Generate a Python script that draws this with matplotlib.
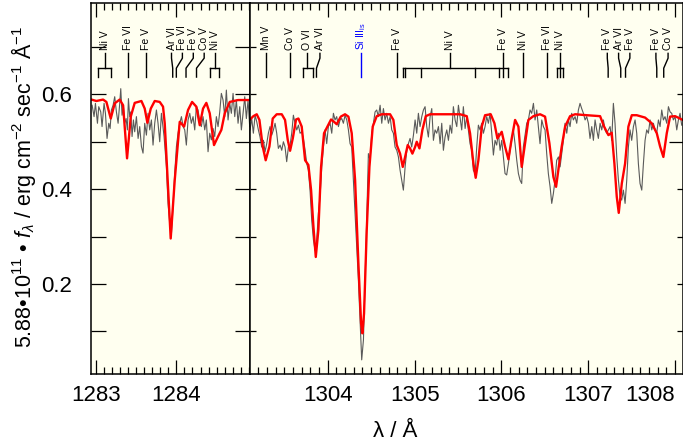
import matplotlib
matplotlib.use("Agg")
import matplotlib.pyplot as plt
from matplotlib.ticker import FixedLocator, NullFormatter

plt.rcParams['font.family'] = ['Liberation Sans', 'DejaVu Sans']
plt.rcParams['mathtext.fontset'] = 'custom'
plt.rcParams['mathtext.rm'] = 'Liberation Sans'
plt.rcParams['mathtext.it'] = 'Liberation Sans:italic'

# ---- observed spectrum (grey) ----
left_obs_wave = [
    1282.956, 1282.980, 1282.997, 1283.022, 1283.038, 1283.063, 1283.079, 1283.104, 1283.121, 1283.141,
    1283.162, 1283.179, 1283.195, 1283.216, 1283.236, 1283.257, 1283.278, 1283.298, 1283.311, 1283.327,
    1283.344, 1283.360, 1283.377, 1283.393, 1283.406, 1283.422, 1283.435, 1283.451, 1283.468, 1283.484,
    1283.505, 1283.526, 1283.546, 1283.567, 1283.587, 1283.608, 1283.629, 1283.649, 1283.670, 1283.691,
    1283.711, 1283.732, 1283.753, 1283.773, 1283.794, 1283.815, 1283.848, 1283.877, 1283.897, 1283.918,
    1283.939, 1283.959, 1283.980, 1284.001, 1284.021, 1284.042, 1284.063, 1284.083, 1284.104, 1284.124,
    1284.145, 1284.166, 1284.186, 1284.207, 1284.228, 1284.248, 1284.269, 1284.290, 1284.310, 1284.331,
    1284.352, 1284.372, 1284.393, 1284.414, 1284.434, 1284.455, 1284.476, 1284.496, 1284.517, 1284.538,
    1284.558, 1284.579, 1284.600, 1284.620, 1284.641, 1284.662, 1284.682, 1284.703, 1284.724, 1284.744,
    1284.765, 1284.786, 1284.806, 1284.827, 1284.848, 1284.868, 1284.889, 1284.909]
left_obs_flux = [
    0.577, 0.553, 0.581, 0.539, 0.574, 0.563, 0.532, 0.581, 0.560, 0.507,
    0.539, 0.528, 0.567, 0.577, 0.595, 0.563, 0.539, 0.581, 0.612, 0.556,
    0.574, 0.539, 0.549, 0.525, 0.591, 0.553, 0.563, 0.511, 0.546, 0.521,
    0.553, 0.507, 0.532, 0.490, 0.476, 0.539, 0.514, 0.560, 0.525, 0.546,
    0.493, 0.539, 0.567, 0.539, 0.500, 0.560, 0.511, 0.447, 0.370, 0.328,
    0.307, 0.363, 0.433, 0.490, 0.518, 0.539, 0.553, 0.532, 0.525, 0.493,
    0.546, 0.560, 0.539, 0.553, 0.525, 0.574, 0.567, 0.542, 0.532, 0.553,
    0.525, 0.546, 0.479, 0.518, 0.504, 0.528, 0.511, 0.553, 0.532, 0.563,
    0.602, 0.588, 0.553, 0.609, 0.546, 0.581, 0.560, 0.602, 0.553, 0.588,
    0.539, 0.574, 0.525, 0.560, 0.595, 0.549, 0.588, 0.532]

right_obs_wave = [
    1303.105, 1303.124, 1303.143, 1303.163, 1303.182, 1303.201, 1303.220, 1303.239, 1303.259, 1303.278,
    1303.297, 1303.316, 1303.335, 1303.355, 1303.374, 1303.393, 1303.412, 1303.431, 1303.451, 1303.470,
    1303.489, 1303.508, 1303.527, 1303.547, 1303.566, 1303.585, 1303.604, 1303.623, 1303.643, 1303.662,
    1303.681, 1303.700, 1303.719, 1303.739, 1303.758, 1303.777, 1303.796, 1303.815, 1303.835, 1303.854,
    1303.873, 1303.892, 1303.911, 1303.931, 1303.950, 1303.969, 1303.988, 1304.007, 1304.027, 1304.046,
    1304.065, 1304.084, 1304.103, 1304.123, 1304.142, 1304.161, 1304.180, 1304.199, 1304.219, 1304.238,
    1304.257, 1304.276, 1304.295, 1304.315, 1304.334, 1304.353, 1304.372, 1304.391, 1304.411, 1304.430,
    1304.449, 1304.468, 1304.487, 1304.507, 1304.526, 1304.545, 1304.564, 1304.583, 1304.603, 1304.622,
    1304.641, 1304.660, 1304.679, 1304.699, 1304.718, 1304.737, 1304.756, 1304.775, 1304.795, 1304.814,
    1304.833, 1304.852, 1304.871, 1304.891, 1304.910, 1304.929, 1304.948, 1304.967, 1304.987, 1305.006,
    1305.025, 1305.044, 1305.063, 1305.083, 1305.102, 1305.121, 1305.140, 1305.159, 1305.179, 1305.198,
    1305.217, 1305.236, 1305.255, 1305.275, 1305.294, 1305.313, 1305.332, 1305.351, 1305.371, 1305.390,
    1305.409, 1305.428, 1305.447, 1305.467, 1305.486, 1305.505,
    1305.543, 1305.562, 1305.582, 1305.601, 1305.620, 1305.639, 1305.658, 1305.677, 1305.697, 1305.716,
    1305.735, 1305.754, 1305.773, 1305.793, 1305.812, 1305.831, 1305.850, 1305.869, 1305.889, 1305.908,
    1305.927, 1305.946, 1305.965, 1305.985, 1306.004, 1306.023, 1306.042, 1306.061, 1306.081, 1306.100,
    1306.119, 1306.138, 1306.157, 1306.177, 1306.196, 1306.215, 1306.234, 1306.253, 1306.273, 1306.292,
    1306.311, 1306.330, 1306.349, 1306.369, 1306.388, 1306.407, 1306.426, 1306.445, 1306.465, 1306.484,
    1306.503, 1306.522, 1306.541, 1306.561, 1306.580, 1306.599, 1306.618, 1306.637, 1306.657, 1306.676,
    1306.695, 1306.714, 1306.733, 1306.753, 1306.772, 1306.791, 1306.810, 1306.829, 1306.849, 1306.868,
    1306.887, 1306.906, 1306.925, 1306.945, 1306.964, 1306.983, 1307.002, 1307.021, 1307.041, 1307.060,
    1307.079, 1307.098, 1307.117, 1307.137, 1307.156, 1307.175, 1307.194, 1307.213, 1307.233, 1307.252,
    1307.271, 1307.290, 1307.309, 1307.329, 1307.348, 1307.367, 1307.386, 1307.405, 1307.425, 1307.444,
    1307.463, 1307.482, 1307.501, 1307.521, 1307.540, 1307.559, 1307.578, 1307.597, 1307.617, 1307.636,
    1307.655, 1307.674, 1307.693, 1307.713, 1307.732, 1307.751, 1307.770, 1307.789, 1307.809, 1307.828,
    1307.847, 1307.866, 1307.885, 1307.905, 1307.924, 1307.943, 1307.962, 1307.981, 1308.001, 1308.020,
    1308.039, 1308.058, 1308.077]
right_obs_flux = [
    0.525, 0.549, 0.518, 0.556, 0.542, 0.525, 0.510, 0.489, 0.503, 0.479,
    0.496, 0.518, 0.532, 0.514, 0.525, 0.539, 0.518, 0.486, 0.493, 0.482,
    0.500, 0.489, 0.458, 0.489, 0.493, 0.518, 0.556, 0.539, 0.525, 0.535,
    0.518, 0.521, 0.507, 0.482, 0.454, 0.440, 0.398, 0.335, 0.293, 0.271,
    0.293, 0.349, 0.384, 0.447, 0.489, 0.525, 0.496, 0.532, 0.539, 0.518,
    0.560, 0.546, 0.553, 0.532, 0.546, 0.549, 0.539, 0.556, 0.546, 0.525,
    0.496, 0.489, 0.419, 0.349, 0.278, 0.208, 0.124, 0.040, 0.082, 0.208,
    0.335, 0.475, 0.461, 0.518, 0.539, 0.563, 0.567, 0.553, 0.577, 0.539,
    0.570, 0.546, 0.560, 0.539, 0.553, 0.525, 0.518, 0.489, 0.482, 0.468,
    0.440, 0.419, 0.398, 0.447, 0.482, 0.496, 0.507, 0.489, 0.514, 0.546,
    0.518, 0.560, 0.532, 0.553, 0.567, 0.574, 0.532, 0.510, 0.553, 0.570,
    0.503, 0.525, 0.518, 0.532, 0.496, 0.539, 0.482, 0.510, 0.525, 0.503,
    0.535, 0.518, 0.574, 0.546, 0.532, 0.577,
    0.525, 0.574, 0.528, 0.553, 0.525, 0.496, 0.482, 0.440, 0.433, 0.489,
    0.535, 0.525, 0.539, 0.518, 0.532, 0.553, 0.539, 0.560, 0.518, 0.472,
    0.503, 0.493, 0.518, 0.482, 0.503, 0.468, 0.433, 0.430, 0.454, 0.482,
    0.503, 0.525, 0.496, 0.461, 0.433, 0.419, 0.412, 0.489, 0.514, 0.539,
    0.546, 0.567, 0.560, 0.581, 0.546, 0.567, 0.532, 0.496, 0.546, 0.532,
    0.525, 0.475, 0.433, 0.405, 0.370, 0.391, 0.419, 0.461, 0.468, 0.447,
    0.475, 0.503, 0.539, 0.518, 0.546, 0.532, 0.560, 0.546, 0.553, 0.539,
    0.567, 0.581, 0.570, 0.560, 0.546, 0.553, 0.539, 0.507, 0.532, 0.503,
    0.546, 0.525, 0.507, 0.539, 0.525, 0.546, 0.525, 0.518, 0.525, 0.532,
    0.503, 0.581, 0.539, 0.468, 0.419, 0.384, 0.377, 0.398, 0.370, 0.419,
    0.489, 0.525, 0.503, 0.532, 0.546, 0.518, 0.454, 0.412, 0.398, 0.454,
    0.503, 0.525, 0.518, 0.546, 0.525, 0.539, 0.525, 0.518, 0.546, 0.532,
    0.567, 0.546, 0.553, 0.539, 0.574, 0.563, 0.560, 0.546, 0.553, 0.525,
    0.546, 0.560, 0.535]

# ---- model spectrum (red) ----
left_mod_wave = [
    1282.947, 1283.009, 1283.092, 1283.133, 1283.187, 1283.236, 1283.298, 1283.340, 1283.389, 1283.435,
    1283.484, 1283.567, 1283.608, 1283.641, 1283.683, 1283.732, 1283.794, 1283.835, 1283.856, 1283.930,
    1283.980, 1284.042, 1284.096, 1284.145, 1284.195, 1284.248, 1284.290, 1284.331, 1284.372, 1284.414,
    1284.467, 1284.517, 1284.558, 1284.600, 1284.662, 1284.765, 1284.909]
left_mod_flux = [
    0.589, 0.586, 0.589, 0.584, 0.549, 0.581, 0.589, 0.577, 0.465, 0.553,
    0.582, 0.586, 0.570, 0.540, 0.570, 0.586, 0.584, 0.574, 0.539, 0.296,
    0.419, 0.542, 0.532, 0.567, 0.584, 0.574, 0.535, 0.570, 0.582, 0.560,
    0.493, 0.511, 0.525, 0.560, 0.584, 0.588, 0.588]

right_mod_wave = [
    1303.105, 1303.143, 1303.182, 1303.213, 1303.251, 1303.285, 1303.328, 1303.366, 1303.412, 1303.470,
    1303.508, 1303.539, 1303.566, 1303.597, 1303.635, 1303.662, 1303.700, 1303.739, 1303.777, 1303.808,
    1303.835, 1303.862, 1303.892, 1303.923, 1303.957, 1303.996, 1304.038, 1304.073, 1304.103, 1304.150,
    1304.199, 1304.238, 1304.276, 1304.315, 1304.353, 1304.384, 1304.399, 1304.418, 1304.449, 1304.480,
    1304.518, 1304.564, 1304.622, 1304.718, 1304.756, 1304.795, 1304.833, 1304.864, 1304.891, 1304.921,
    1304.948, 1304.975, 1305.006, 1305.025, 1305.056, 1305.090, 1305.129, 1305.179, 1305.409, 1305.524,
    1305.601, 1305.639, 1305.678, 1305.704, 1305.735, 1305.774, 1305.812, 1305.877, 1305.920, 1305.954,
    1306.004, 1306.042, 1306.081, 1306.119, 1306.158, 1306.196, 1306.234, 1306.273, 1306.311, 1306.369,
    1306.446, 1306.503, 1306.553, 1306.599, 1306.630, 1306.661, 1306.695, 1306.734, 1306.791, 1306.849,
    1306.983, 1307.137, 1307.183, 1307.233, 1307.271, 1307.302, 1307.329, 1307.352, 1307.387, 1307.425,
    1307.463, 1307.502, 1307.559, 1307.655, 1307.732, 1307.790, 1307.828, 1307.866, 1307.905, 1307.943,
    1308.001, 1308.089]
right_mod_flux = [
    0.547, 0.554, 0.558, 0.546, 0.490, 0.461, 0.490, 0.549, 0.558, 0.558,
    0.546, 0.504, 0.481, 0.507, 0.547, 0.549, 0.532, 0.461, 0.451, 0.398,
    0.321, 0.257, 0.314, 0.447, 0.518, 0.532, 0.547, 0.542, 0.537, 0.553,
    0.558, 0.553, 0.518, 0.419, 0.243, 0.117, 0.096, 0.138, 0.314, 0.447,
    0.532, 0.554, 0.558, 0.558, 0.546, 0.493, 0.475, 0.447, 0.468, 0.493,
    0.486, 0.475, 0.489, 0.500, 0.486, 0.525, 0.554, 0.558, 0.558, 0.558,
    0.554, 0.518, 0.454, 0.424, 0.461, 0.532, 0.556, 0.558, 0.539, 0.507,
    0.521, 0.490, 0.463, 0.507, 0.546, 0.532, 0.447, 0.497, 0.546, 0.554,
    0.558, 0.553, 0.497, 0.426, 0.405, 0.447, 0.490, 0.532, 0.554, 0.558,
    0.556, 0.554, 0.532, 0.514, 0.519, 0.454, 0.384, 0.350, 0.412, 0.454,
    0.532, 0.556, 0.556, 0.551, 0.539, 0.518, 0.490, 0.468, 0.518, 0.553,
    0.554, 0.546]

# ---- line identifications: name, label position, line positions ----
left_id_names = ['Ni V', 'Fe VI', 'Fe V', 'Ar VI', 'Fe VI', 'Fe V', 'Co V', 'Ni V']
left_id_label = [1283.11, 1283.40, 1283.63, 1283.94, 1284.075, 1284.21, 1284.345, 1284.48]
left_id_lines = [[1283.03, 1283.19], [1283.40], [1283.63], [1283.955], [1284.00],
                 [1284.12], [1284.25], [1284.42, 1284.53]]
left_id_colors = ['k'] * 8

right_id_names = ['Mn V', 'Co V', 'O VI', 'Ar VI', r'Si III$_{\rm is}$', 'Fe V', 'Ni V', 'Fe V',
                  'Ni V', 'Fe VI', 'Ni V', 'Fe V', 'Ar VI', 'Fe V', 'Fe V', 'Co V']
right_id_label = [1303.29, 1303.57, 1303.76, 1303.91, 1304.38, 1304.80, 1305.41, 1306.02,
                  1306.25, 1306.53, 1306.68, 1307.22, 1307.35, 1307.48, 1307.78, 1307.92]
right_id_lines = [[1303.29], [1303.57], [1303.72, 1303.83], [1303.87], [1304.38], [1304.80],
                  [1304.87, 1304.89, 1305.07, 1305.70, 1305.97, 1306.08], [1306.02],
                  [1306.25], [1306.53], [1306.645, 1306.68, 1306.71], [1307.23], [1307.375],
                  [1307.43], [1307.79], [1307.87]]
right_id_colors = ['k'] * 4 + ['#0000ff'] + ['k'] * 11

bg = '#fffff0'


def draw_ids(ax, names, labels, lines, colors):
    tr = ax.get_xaxis_transform()
    y_text, y_top, y_kink, y_bar, y_bot = 0.873, 0.865, 0.852, 0.825, 0.801
    for name, lx, comps, c in zip(names, labels, lines, colors):
        ax.text(lx, y_text, name, transform=tr, rotation=90, ha='center', va='bottom',
                fontsize=7.5, color=c)
        if len(comps) == 1:
            x = comps[0]
            if abs(x - lx) < 1e-3:
                ax.plot([x, x], [y_top, y_bot], transform=tr, color=c, lw=1.0)
            else:
                ax.plot([lx, lx, x, x], [y_top, y_kink, y_bar, y_bot], transform=tr, color=c, lw=1.0)
        else:
            ax.plot([lx, lx], [y_top, y_bar], transform=tr, color=c, lw=1.0)
            ax.plot([min(comps), max(comps)], [y_bar, y_bar], transform=tr, color=c, lw=1.0)
            for x in comps:
                ax.plot([x, x], [y_bar, y_bot], transform=tr, color=c, lw=1.0)


fig = plt.figure(figsize=(6.83, 4.48), dpi=100)
axl = fig.add_axes([0.1337, 0.1652, 0.2328, 0.8274])
axr = fig.add_axes([0.3665, 0.1652, 0.6335, 0.8274])

for ax in (axl, axr):
    ax.set_facecolor(bg)
    ax.set_ylim(0.0102, 0.792)
    for s in ax.spines.values():
        s.set_linewidth(1.1)
    ax.tick_params(which='both', direction='in', top=True, right=True, width=0.9,
                   labelsize=16)

axl.set_xlim(1282.946, 1284.917)
axr.set_xlim(1303.108, 1308.092)

axl.plot(left_obs_wave, left_obs_flux, color='#5a5a5a', lw=0.8)
axl.plot(left_mod_wave, left_mod_flux, color='#ff0000', lw=1.7)
axr.plot(right_obs_wave, right_obs_flux, color='#5a5a5a', lw=0.8)
axr.plot(right_mod_wave, right_mod_flux, color='#ff0000', lw=1.7)

draw_ids(axl, left_id_names, left_id_label, left_id_lines, left_id_colors)
draw_ids(axr, right_id_names, right_id_label, right_id_lines, right_id_colors)

# x ticks
axl.set_xticks([1283, 1284], labels=['1283', '1284'])
axl.xaxis.set_minor_locator(FixedLocator([1283 + i / 10 for i in range(-1, 20)]))
axr.set_xticks([1304, 1305, 1306, 1307, 1308], labels=['1304', '1305', '1306', '1307', '1308'])
axr.xaxis.set_minor_locator(FixedLocator([1303 + i / 10 for i in range(1, 51)]))
for ax in (axl, axr):
    ax.tick_params(axis='x', which='major', length=10, pad=8)
    ax.tick_params(axis='x', which='minor', length=5)
axr.get_xticklabels()[-1].set_horizontalalignment('right')

# y ticks
axl.yaxis.set_major_locator(FixedLocator([0.2, 0.4, 0.6]))
axl.yaxis.set_minor_locator(FixedLocator([0.1, 0.3, 0.5, 0.7]))
axl.set_yticklabels(['0.2', '0.4', '0.6'])
axl.tick_params(axis='y', which='both', length=11, pad=14)

axr.yaxis.set_major_locator(FixedLocator([0.5]))
axr.yaxis.set_minor_locator(FixedLocator([0.1, 0.2, 0.3, 0.4, 0.6, 0.7]))
axr.yaxis.set_major_formatter(NullFormatter())
axr.tick_params(axis='y', which='major', length=10)
axr.tick_params(axis='y', which='minor', length=4.5)

fig.text(0.578, 0.036, 'λ / Å', ha='center', va='center', fontsize=16)
fig.text(0.034, 0.583,
         r'5.88•10$^{11}$ • $f_{\lambda}$ / erg cm$^{-2}$ sec$^{-1}$ Å$^{-1}$',
         rotation=90, ha='center', va='center', fontsize=15.5)

fig.savefig('out.png', dpi=100)
